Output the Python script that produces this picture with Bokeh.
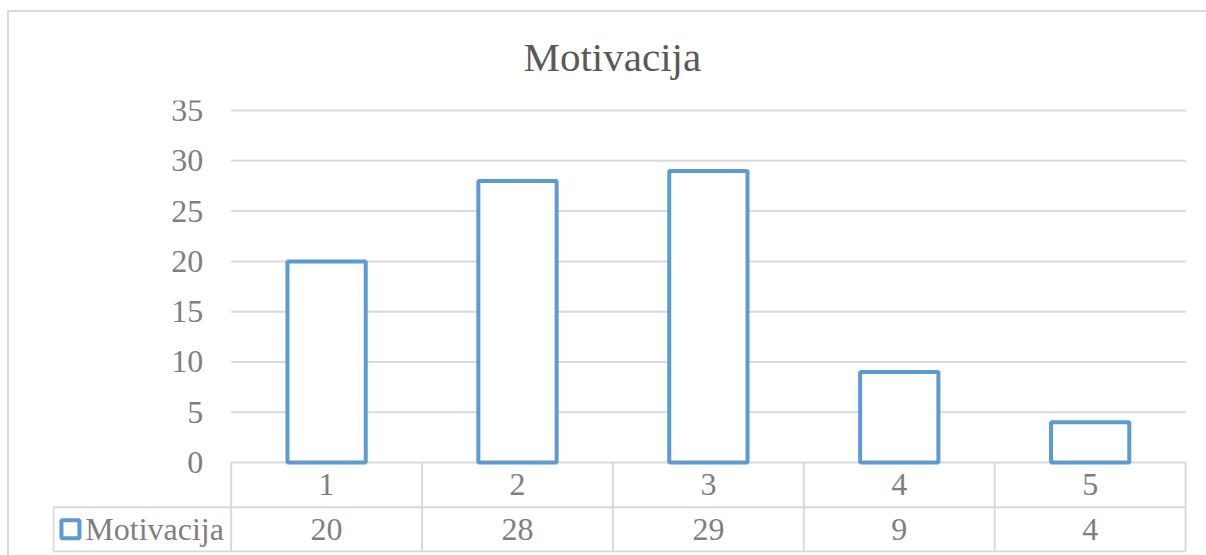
from bokeh.plotting import figure
from bokeh.models import Range1d, FixedTicker
from bokeh.core.properties import value
from bokeh.embed import file_html
from bokeh.resources import INLINE

# ---- data ----
categories = ["1", "2", "3", "4", "5"]
values = [20, 28, 29, 9, 4]
series_name = "Motivacija"
y_ticks = [0, 5, 10, 15, 20, 25, 30, 35]
title_text = "Motivacija"

# ---- style ----
BLUE = "#5B9BD5"
GRID = "#D9D9D9"
TXT = "#7F7F7F"
TITLE_TXT = "#595959"
FONT = "Liberation Serif"
FS = "32px"

LEFT_COL = 0.936          # width of the legend column (in category units)
ROW1 = -4.45              # separator between category row and value row
ROW2 = -8.85              # bottom of the data table

p = figure(width=1206, height=555,
           x_range=Range1d(-LEFT_COL, 5.01), y_range=Range1d(-8.95, 36.0),
           x_axis_type=None, output_backend="svg", toolbar_location=None,
           min_border_left=52, min_border_right=19, min_border_top=100, min_border_bottom=3)
p.outline_line_color = None
p.xgrid.visible = False
p.ygrid.visible = False
p.border_fill_color = None
p.background_fill_color = None
p.styles = {
    "background": ("linear-gradient(#D9D9D9,#D9D9D9) 7px 10px / 2px 545px no-repeat, "
                   "linear-gradient(#D9D9D9,#D9D9D9) 7px 10px / 1199px 2px no-repeat, white"),
}

# title
p.title.text = title_text
p.title.align = "left"
p.title.text_font = FONT
p.title.text_font_size = "41px"
p.title.text_font_style = "normal"
p.title.text_color = TITLE_TXT
p.title.offset = 471
p.title.standoff = 42

# y axis placed at the start of the category area
yax = p.yaxis[0]
yax.ticker = FixedTicker(ticks=y_ticks)
yax.fixed_location = 0
yax.axis_line_color = None
yax.major_tick_line_color = None
yax.minor_tick_line_color = None
yax.major_label_text_font = FONT
yax.major_label_text_font_size = FS
yax.major_label_text_color = TXT
yax.major_label_standoff = 22

n = len(categories)
centers = [i + 0.5 for i in range(n)]

# gridlines over the category area
p.segment(x0=[0] * len(y_ticks), x1=[n] * len(y_ticks), y0=y_ticks, y1=y_ticks,
          line_color=GRID, line_width=2)

# data table lines
p.segment(x0=[-LEFT_COL + 0.005, -LEFT_COL + 0.005], x1=[n, n], y0=[ROW1, ROW2], y1=[ROW1, ROW2],
          line_color=GRID, line_width=2)
p.segment(x0=list(range(n + 1)), x1=list(range(n + 1)), y0=[0] * (n + 1), y1=[ROW2] * (n + 1),
          line_color=GRID, line_width=2)
p.segment(x0=[-LEFT_COL + 0.005], x1=[-LEFT_COL + 0.005], y0=[ROW1], y1=[ROW2],
          line_color=GRID, line_width=2)

# bars
p.vbar(x=centers, top=values, bottom=0, width=0.41, fill_color="white",
       line_color=BLUE, line_width=4)

# table texts
p.text(x=centers, y=[ROW1 / 2] * n, text=categories, text_align="center", text_baseline="middle",
       text_font=value(FONT), text_font_size=FS, text_color=TXT)
p.text(x=centers, y=[(ROW1 + ROW2) / 2] * n, text=[str(v) for v in values], text_align="center",
       text_baseline="middle", text_font=value(FONT), text_font_size=FS, text_color=TXT)

# legend key + series name
p.scatter(x=[-LEFT_COL + 0.094], y=[(ROW1 + ROW2) / 2], marker="square", size=18,
          fill_color="white", line_color=BLUE, line_width=4)
p.text(x=[-LEFT_COL + 0.172], y=[(ROW1 + ROW2) / 2], text=[series_name], text_align="left",
       text_baseline="middle", text_font=value(FONT), text_font_size=FS, text_color=TXT)

open("out.html", "w").write(file_html(p, INLINE))
